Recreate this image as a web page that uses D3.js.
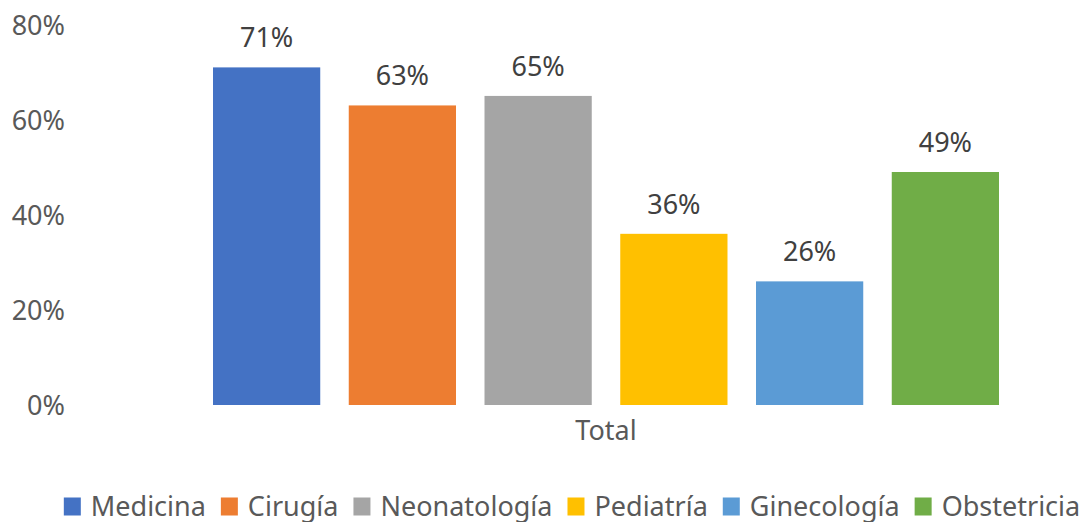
<!DOCTYPE html>
<html>
<head>
<meta charset="utf-8">
<script src="https://cdn.jsdelivr.net/npm/d3@7"></script>
<style>
  body { margin: 0; background: #fff; }
  text { font-family: "Noto Sans", "Open Sans", sans-serif; }
</style>
</head>
<body>
<div id="chart"></div>
<script>
// Bar chart: share per service, single "Total" category

var categories = ["Total"];
var series = ["Medicina", "Cirugía", "Neonatología", "Pediatría", "Ginecología", "Obstetricia"];
var values = [0.71, 0.63, 0.65, 0.36, 0.26, 0.49];
var colors = ["#4472C4", "#ED7D31", "#A5A5A5", "#FFC000", "#5B9BD5", "#70AD47"];
var yTicks = [0, 0.2, 0.4, 0.6, 0.8];

(function() {
  var width = 1088, height = 522;

  var svg = d3.select("#chart")
    .append("svg")
    .attr("width", width)
    .attr("height", height);

  var y = d3.scaleLinear()
    .domain([0, 0.8])
    .range([405, 24.6]);

  // outer band for the one category, inner band for the series
  var x0 = d3.scaleBand()
    .domain(categories)
    .range([213, 999]);

  var x1 = d3.scaleBand()
    .domain(series)
    .range([0, x0.bandwidth()])
    .paddingInner(0.21)
    .paddingOuter(0);

  var pct = d3.format(".0%");

  // y axis, labels only
  var yAxis = svg.append("g")
    .attr("transform", "translate(65,0)")
    .call(d3.axisLeft(y).tickValues(yTicks).tickFormat(pct).tickSize(0).tickPadding(0));
  yAxis.select(".domain").remove();
  yAxis.selectAll("text")
    .attr("font-size", 27)
    .attr("fill", "#595959")
    .attr("dy", "0.36em")
    .style("font-family", "'Noto Sans', sans-serif");

  // x axis, category label
  var xAxis = svg.append("g")
    .attr("transform", "translate(0,440)")
    .call(d3.axisBottom(x0).tickSize(0).tickPadding(0));
  xAxis.select(".domain").remove();
  xAxis.selectAll("text")
    .attr("font-size", 27)
    .attr("fill", "#595959")
    .attr("dy", 0)
    .style("font-family", "'Noto Sans', sans-serif");

  var rows = series.map(function(s, i) {
    return { cat: categories[0], name: s, value: values[i], color: colors[i] };
  });

  var g = svg.append("g");

  g.selectAll(".bar")
    .data(rows)
    .enter().append("rect")
    .attr("class", "bar")
    .attr("x", function(d) { return x0(d.cat) + x1(d.name); })
    .attr("y", function(d) { return y(d.value); })
    .attr("width", x1.bandwidth())
    .attr("height", function(d) { return y(0) - y(d.value); })
    .attr("fill", function(d) { return d.color; });

  g.selectAll(".label")
    .data(rows)
    .enter().append("text")
    .attr("class", "label")
    .attr("x", function(d) { return x0(d.cat) + x1(d.name) + x1.bandwidth() / 2; })
    .attr("y", function(d) { return y(d.value) - 20; })
    .attr("text-anchor", "middle")
    .attr("font-size", 27)
    .attr("fill", "#404040")
    .text(function(d) { return pct(d.value); });

  // legend, centered
  var legend = svg.append("g").attr("class", "legend");
  var items = legend.selectAll("g")
    .data(rows)
    .enter().append("g");

  items.append("rect")
    .attr("width", 17)
    .attr("height", 18)
    .attr("y", -18)
    .attr("fill", function(d) { return d.color; });

  items.append("text")
    .attr("x", 27)
    .attr("font-size", 27)
    .attr("fill", "#595959")
    .text(function(d) { return d.name; });

  var xpos = 0;
  items.each(function() {
    var w = this.getBBox().width;
    d3.select(this).attr("transform", "translate(" + xpos + ",0)");
    xpos += w + 15;
  });
  var total = xpos - 15;
  legend.attr("transform", "translate(" + ((66 + 1078) / 2 - total / 2) + ",515.5)");
})();
</script>
</body>
</html>
